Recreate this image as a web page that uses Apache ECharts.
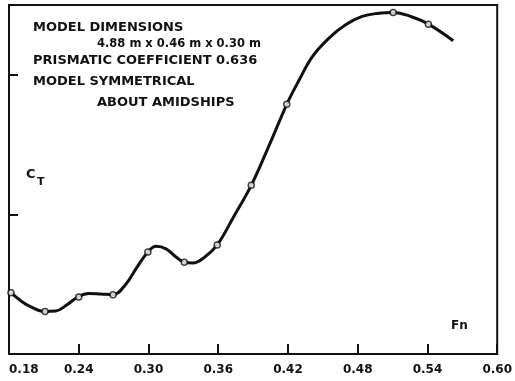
<!DOCTYPE html>
<html>
<head>
<meta charset="utf-8">
<script src="https://cdn.jsdelivr.net/npm/echarts@6/dist/echarts.min.js"></script>
<style>html,body{margin:0;padding:0;background:#fff;}#c{width:515px;height:381px;}</style>
</head>
<body>
<div id="c"></div>
<script>
// Measured points (circles) : Froude number vs C_T (arbitrary units, tick spacing = 1)
const pointFn = [0.1817, 0.211, 0.240, 0.2695, 0.2995, 0.3308, 0.3591, 0.3884, 0.419, 0.5105, 0.5408];
const pointCT = [0.439, 0.305, 0.409, 0.425, 0.731, 0.657, 0.781, 1.208, 1.789, 2.447, 2.363];
// Faired curve
const curveFn = [0.1817, 0.1903, 0.1988, 0.2108, 0.2202, 0.2296, 0.2394, 0.2484, 0.2587, 0.2695, 0.280, 0.2903, 0.2995, 0.3066, 0.3151, 0.3237, 0.3308, 0.3382, 0.3485, 0.3591, 0.3732, 0.3884, 0.404, 0.419, 0.4297, 0.4410, 0.4553, 0.4696, 0.4838, 0.498, 0.5105, 0.5263, 0.5408, 0.5622];
const curveCT = [0.439, 0.380, 0.337, 0.305, 0.308, 0.351, 0.409, 0.434, 0.430, 0.425, 0.495, 0.624, 0.731, 0.771, 0.753, 0.695, 0.657, 0.652, 0.695, 0.781, 0.982, 1.208, 1.498, 1.789, 1.964, 2.131, 2.263, 2.358, 2.418, 2.441, 2.447, 2.416, 2.363, 2.244];
const xTicks = [0.18, 0.24, 0.30, 0.36, 0.42, 0.48, 0.54, 0.60];
const notes = ["MODEL DIMENSIONS", "4.88 m x 0.46 m x 0.30 m", "PRISMATIC COEFFICIENT 0.636", "MODEL SYMMETRICAL", "ABOUT AMIDSHIPS"];

const chart = echarts.init(document.getElementById('c'), null, {renderer: 'canvas'});
const ink = '#111';
const font = '"DejaVu Sans", sans-serif';
const noteStyle = {fill: ink, font: 'bold 13px ' + font};
chart.setOption({
  animation: false,
  backgroundColor: '#fff',
  grid: {left: 9, right: 16, top: 5, bottom: 27, show: true, borderColor: ink, borderWidth: 2, backgroundColor: 'transparent'},
  xAxis: {
    type: 'value', min: xTicks[0], max: xTicks[xTicks.length - 1], interval: 0.06,
    axisLine: {lineStyle: {color: ink, width: 2}},
    axisTick: {inside: true, length: 10, lineStyle: {color: ink, width: 2}},
    splitLine: {show: false},
    axisLabel: {color: ink, fontFamily: font, fontWeight: 'bold', fontSize: 12, margin: 10, alignMinLabel: 'left',
      formatter: v => v.toFixed(2)}
  },
  yAxis: {
    type: 'value', min: 0, max: 2.5, interval: 1,
    axisLine: {show: true, lineStyle: {color: ink, width: 2}},
    axisTick: {show: true, inside: true, length: 9, lineStyle: {color: ink, width: 2}},
    splitLine: {show: false},
    axisLabel: {show: false}
  },
  series: [
    {type: 'line', data: curveFn.map((x, i) => [x, curveCT[i]]), smooth: 0.4, showSymbol: false,
      lineStyle: {color: ink, width: 3}, z: 2},
    {type: 'scatter', data: pointFn.map((x, i) => [x, pointCT[i]]), symbol: 'circle', symbolSize: 6,
      itemStyle: {color: '#fff', borderColor: ink, borderWidth: 1.5}, z: 3}
  ],
  graphic: [
    {type: 'text', left: 33, top: 21, style: Object.assign({text: notes[0]}, noteStyle)},
    {type: 'text', left: 97, top: 38, style: {text: notes[1], fill: ink, font: 'bold 11.5px ' + font}},
    {type: 'text', left: 33, top: 54, style: Object.assign({text: notes[2]}, noteStyle)},
    {type: 'text', left: 33, top: 75, style: Object.assign({text: notes[3]}, noteStyle)},
    {type: 'text', left: 97, top: 96, style: Object.assign({text: notes[4]}, noteStyle)},
    {type: 'text', left: 26, top: 168, style: {text: 'C', fill: ink, font: 'bold 13px ' + font}},
    {type: 'text', left: 37, top: 177, style: {text: 'T', fill: ink, font: 'bold 11px ' + font}},
    {type: 'text', left: 451, top: 320, style: {text: 'Fn', fill: ink, font: 'bold 12px ' + font}}
  ]
});
</script>
</body>
</html>
